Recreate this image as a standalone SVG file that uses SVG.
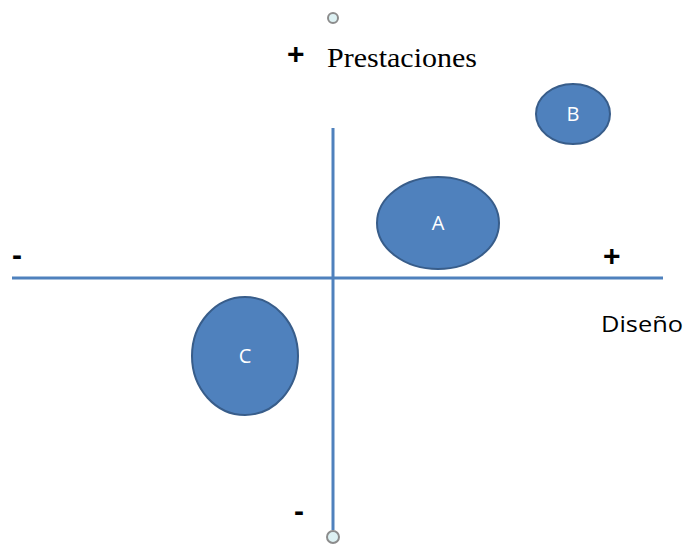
<svg xmlns="http://www.w3.org/2000/svg" width="686" height="547" viewBox="0 0 686 547">
<style>
.node ellipse{fill:#4F81BD;stroke:#385D8A;stroke-width:2}
.node text{fill:#fff;font-family:"Open Sans","Liberation Sans",sans-serif;font-size:20px;text-anchor:middle}
.axis{stroke:#4F81BD;stroke-width:3;fill:none}
.end{fill:#DDF1F3;stroke:#8C8C8C;stroke-width:2}
.sign{font-family:"Liberation Sans",sans-serif;font-weight:bold;font-size:30px;fill:#000}
</style>
<rect width="686" height="547" fill="#fff"/>
<g id="connectors">
<line class="axis" x1="333" y1="128" x2="333" y2="530"/>
<line class="axis" x1="12" y1="278" x2="663" y2="278"/>
<circle class="end" cx="333" cy="537" r="6"/>
<circle class="end" cx="333" cy="18" r="5"/>
</g>
<g id="labels">
<text class="sign" x="287" y="64">+</text>
<text x="327" y="67" font-family="Liberation Serif,serif" font-size="27" textLength="150" lengthAdjust="spacingAndGlyphs">Prestaciones</text>
<text class="sign" x="12" y="265">-</text>
<text class="sign" x="603" y="266">+</text>
<text class="sign" x="294" y="521">-</text>
<text x="601" y="332" font-family="Open Sans,Liberation Sans,sans-serif" font-size="22" textLength="82" lengthAdjust="spacingAndGlyphs">Diseño</text>
</g>
<g id="B" class="node"><ellipse cx="573" cy="114" rx="37" ry="30"/><text x="573" y="121">B</text></g>
<g id="A" class="node"><ellipse cx="438" cy="223" rx="61" ry="46"/><text x="438" y="230">A</text></g>
<g id="C" class="node"><ellipse cx="245" cy="356" rx="53" ry="59"/><text x="245" y="363">C</text></g>
</svg>
